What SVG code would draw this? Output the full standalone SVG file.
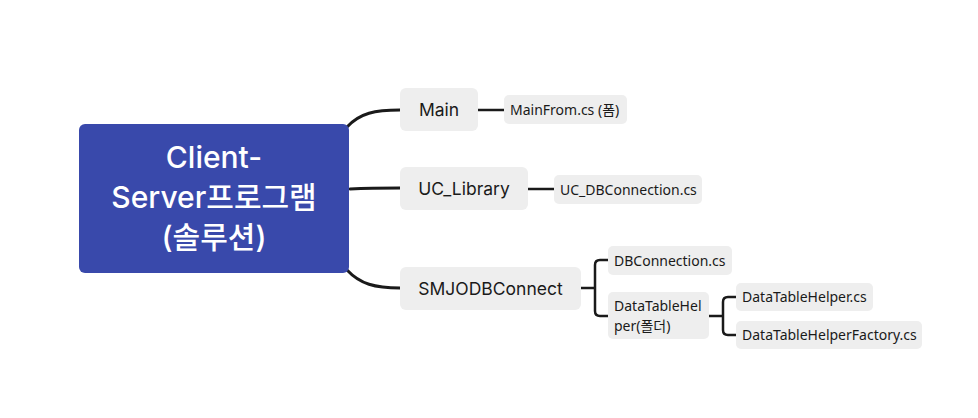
<svg xmlns="http://www.w3.org/2000/svg" width="978" height="418" viewBox="0 0 978 418">
<style>
.bg{fill:#ffffff}
.node{fill:#eeeeee}
.root{fill:#3949ab}
.t1{font-family:Inter,"Noto Sans CJK KR",sans-serif;font-size:17.5px;fill:#1a1a1a;text-anchor:middle}
.t2{font-family:"Noto Sans","Noto Sans CJK KR",sans-serif;font-size:14px;fill:#1a1a1a}
.tr{font-family:Inter,"Noto Sans CJK KR",sans-serif;font-size:30px;fill:#ffffff;text-anchor:middle;font-weight:500}
.c0{fill:none;stroke:#1a1a1a;stroke-width:3;stroke-linecap:round}
.c1{fill:none;stroke:#1a1a1a;stroke-width:2.5;stroke-linecap:butt}
</style>
<rect class="bg" x="0" y="0" width="978" height="418"/>
<g id="connectors">
<path class="c0" d="M347 127 C360 113 375 110 400 110"/>
<path class="c0" d="M350 189 C370 188 380 188 400 188"/>
<path class="c0" d="M347 270 C360 284 375 288 400 288"/>
<path class="c1" d="M478 110 H504"/>
<path class="c1" d="M528 189 H554"/>
<path class="c1" d="M581 288 H594"/>
<path class="c1" d="M608 260 H600 Q595 260 595 265 V311 Q595 316 600 316 H608"/>
<path class="c1" d="M709 316 H723"/>
<path class="c1" d="M736 297 H728 Q723 297 723 302 V330 Q723 335 728 335 H736"/>
</g>
<g id="root">
<rect class="root" x="79" y="124" width="270" height="149" rx="6"/>
<text class="tr" x="214" y="168">Client-</text>
<text class="tr" x="214" y="208">Server프로그램</text>
<text class="tr" x="214" y="248">(솔루션)</text>
</g>
<g id="main">
<rect class="node" x="400" y="88" width="78" height="43" rx="6"/>
<text class="t1" x="439" y="116">Main</text>
</g>
<g id="mainfrom">
<rect class="node" x="504" y="95" width="123" height="29" rx="5"/>
<text class="t2" x="510" y="114.5">MainFrom.cs (폼)</text>
</g>
<g id="uclibrary">
<rect class="node" x="400" y="167" width="128" height="43" rx="6"/>
<text class="t1" x="464" y="195">UC_Library</text>
</g>
<g id="ucdbconnection">
<rect class="node" x="554" y="175" width="148" height="29" rx="5"/>
<text class="t2" x="560" y="194.5">UC_DBConnection.cs</text>
</g>
<g id="smjodbconnect">
<rect class="node" x="400" y="267" width="181" height="43" rx="6"/>
<text class="t1" x="490.5" y="295">SMJODBConnect</text>
</g>
<g id="dbconnection">
<rect class="node" x="608" y="246" width="124" height="29" rx="5"/>
<text class="t2" x="614" y="265.5">DBConnection.cs</text>
</g>
<g id="datatablehelperfolder">
<rect class="node" x="608" y="292" width="101" height="47" rx="5"/>
<text class="t2" x="614" y="311">DataTableHel</text>
<text class="t2" x="614" y="331">per(폴더)</text>
</g>
<g id="datatablehelper">
<rect class="node" x="736" y="283" width="137" height="28" rx="5"/>
<text class="t2" x="742" y="302">DataTableHelper.cs</text>
</g>
<g id="datatablehelperfactory">
<rect class="node" x="736" y="321" width="186" height="28" rx="5"/>
<text class="t2" x="742" y="340">DataTableHelperFactory.cs</text>
</g>
</svg>
